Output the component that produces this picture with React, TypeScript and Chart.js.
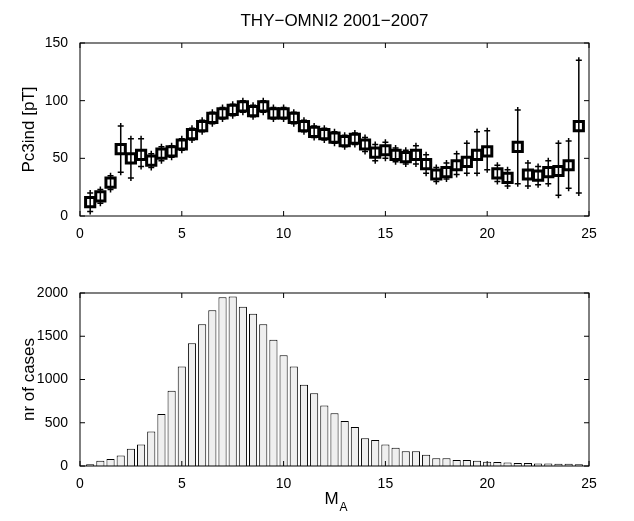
import React, { useEffect, useRef } from "react";
import { Chart, registerables } from "chart.js";
Chart.register(...registerables);

const mA = Array.from({ length: 49 }, (_, i) => 0.5 + i * 0.5);
const pc3 = [12,17,29,58,50,53,48,54,56,62,71,78,85,89,92,95,91,95,89,89,85,78,73,71,68,65,67,62,55,57,53,51,53,45,36,38,44,47,53,56,37,33,60,36,35,38,39,44,78];
const errLo = [8,6,6,20,17,10,6,6,5,5,5,5,5,5,5,5,5,5,5,5,5,5,5,5,5,5,5,6,7,7,6,6,8,8,6,6,8,10,16,16,7,7,32,10,8,10,21,20,58];
const errHi = [8,6,6,20,17,14,6,6,5,5,5,5,5,5,5,5,5,5,5,5,5,5,5,5,5,5,5,6,7,7,6,6,8,8,6,8,10,16,20,18,7,7,32,10,8,10,24,21,57];
const cases = [20,60,80,120,200,250,400,600,870,1150,1420,1640,1800,1950,1960,1840,1760,1640,1460,1280,1150,940,840,700,610,520,450,320,300,250,210,170,170,130,90,90,70,70,60,50,45,40,35,35,30,30,25,25,20];
const xTicks = [0,5,10,15,20,25];
const yTicksTop = [0,50,100,150];
const yTicksBot = [0,500,1000,1500,2000];
const FONT = "'Liberation Sans', Arial, sans-serif";

const frame = (yt: number[], ytitle: string, extra?: (c: any, ctx: CanvasRenderingContext2D) => void) => ({
  id: "frame",
  afterDraw(c: any) {
    const ctx = c.ctx, a = c.chartArea, xs = c.scales.x, ys = c.scales.y;
    ctx.save();
    ctx.strokeStyle = "#000"; ctx.lineWidth = 1;
    ctx.strokeRect(a.left, a.top, a.right - a.left, a.bottom - a.top);
    ctx.beginPath();
    xTicks.forEach(v => { const p = xs.getPixelForValue(v); ctx.moveTo(p, a.bottom); ctx.lineTo(p, a.bottom - 5); ctx.moveTo(p, a.top); ctx.lineTo(p, a.top + 5); });
    yt.forEach(v => { const p = ys.getPixelForValue(v); ctx.moveTo(a.left, p); ctx.lineTo(a.left + 5, p); ctx.moveTo(a.right, p); ctx.lineTo(a.right - 5, p); });
    ctx.stroke();
    ctx.save();
    ctx.translate(34, (a.top + a.bottom) / 2);
    ctx.rotate(-Math.PI / 2);
    ctx.fillStyle = "#000"; ctx.font = `17px ${FONT}`; ctx.textAlign = "center"; ctx.textBaseline = "alphabetic";
    ctx.fillText(ytitle, 0, 0);
    ctx.restore();
    if (extra) extra(c, ctx);
    ctx.restore();
  },
});

const errPlugin = {
  id: "err",
  beforeDatasetsDraw(c: any) {
    const ctx = c.ctx, xs = c.scales.x, ys = c.scales.y;
    ctx.save(); ctx.strokeStyle = "#000"; ctx.lineWidth = 1.5;
    mA.forEach((x, i) => {
      const px = xs.getPixelForValue(x);
      const lo = ys.getPixelForValue(pc3[i] - errLo[i]);
      const hi = ys.getPixelForValue(pc3[i] + errHi[i]);
      ctx.beginPath();
      ctx.moveTo(px, lo); ctx.lineTo(px, hi);
      [lo, hi].forEach(p => { ctx.moveTo(px - 3, p); ctx.lineTo(px + 3, p); ctx.moveTo(px, p - 3); ctx.lineTo(px, p + 3); });
      ctx.stroke();
    });
    ctx.restore();
  },
};

const baseScales = (yt: number[], max: number, xh: number) => ({
  x: {
    type: "linear", min: 0, max: 25, offset: false,
    afterBuildTicks: (s: any) => { s.ticks = xTicks.map(v => ({ value: v })); },
    afterFit: (s: any) => { s.height = xh; },
    grid: { display: false, offset: false }, border: { display: false },
    ticks: { color: "#000", font: { family: FONT, size: 14 }, padding: 2, callback: (v: any) => String(v) },
  },
  y: {
    min: 0, max,
    afterBuildTicks: (s: any) => { s.ticks = yt.map(v => ({ value: v })); },
    afterFit: (s: any) => { s.width = 80; },
    grid: { display: false }, border: { display: false },
    ticks: { color: "#000", font: { family: FONT, size: 14 }, padding: 4, callback: (v: any) => String(v) },
  },
});

export default function App() {
  const r1 = useRef<HTMLCanvasElement>(null);
  const r2 = useRef<HTMLCanvasElement>(null);
  useEffect(() => {
    const c1 = new Chart(r1.current!, {
      type: "scatter",
      data: { datasets: [{ data: mA.map((x, i) => ({ x, y: pc3[i] })), pointStyle: "rect", pointRadius: 6.5, borderColor: "#000", backgroundColor: "rgba(255,255,255,0)", borderWidth: 3 }] },
      options: {
        responsive: false, animation: false, events: [],
        layout: { padding: { top: 43, right: 45, left: 0, bottom: 0 } },
        plugins: { legend: { display: false }, tooltip: { enabled: false } },
        scales: baseScales(yTicksTop, 150, 44) as any,
      },
      plugins: [errPlugin, frame(yTicksTop, "Pc3ind [pT]", (c, ctx) => {
        ctx.fillStyle = "#000"; ctx.font = `17px ${FONT}`; ctx.textAlign = "center"; ctx.textBaseline = "middle";
        ctx.fillText("THY\u2212OMNI2 2001\u22122007", (c.chartArea.left + c.chartArea.right) / 2, 21);
      })],
    });
    const c2 = new Chart(r2.current!, {
      type: "bar",
      data: { datasets: [{ data: mA.map((x, i) => ({ x, y: cases[i] })), backgroundColor: "#efefef", borderColor: "#000", borderWidth: 1, barPercentage: 0.8, categoryPercentage: 1 }] },
      options: {
        responsive: false, animation: false, events: [],
        layout: { padding: { top: 33, right: 45, left: 0, bottom: 0 } },
        plugins: { legend: { display: false }, tooltip: { enabled: false } },
        scales: baseScales(yTicksBot, 2000, 55) as any,
      },
      plugins: [frame(yTicksBot, "nr of cases", (c, ctx) => {
        const cx = (c.chartArea.left + c.chartArea.right) / 2;
        ctx.fillStyle = "#000"; ctx.textBaseline = "alphabetic"; ctx.textAlign = "left";
        ctx.font = `17px ${FONT}`; ctx.fillText("M", cx - 10, c.chartArea.bottom + 38);
        ctx.font = `12px ${FONT}`; ctx.fillText("A", cx + 5, c.chartArea.bottom + 45);
      })],
    });
    return () => { c1.destroy(); c2.destroy(); };
  }, []);
  return (
    <div style={{ position: "fixed", left: 0, top: 0, width: 634, height: 521, background: "#fff" }}>
      <canvas ref={r1} width={634} height={260} style={{ display: "block" }} />
      <canvas ref={r2} width={634} height={261} style={{ display: "block" }} />
    </div>
  );
}
